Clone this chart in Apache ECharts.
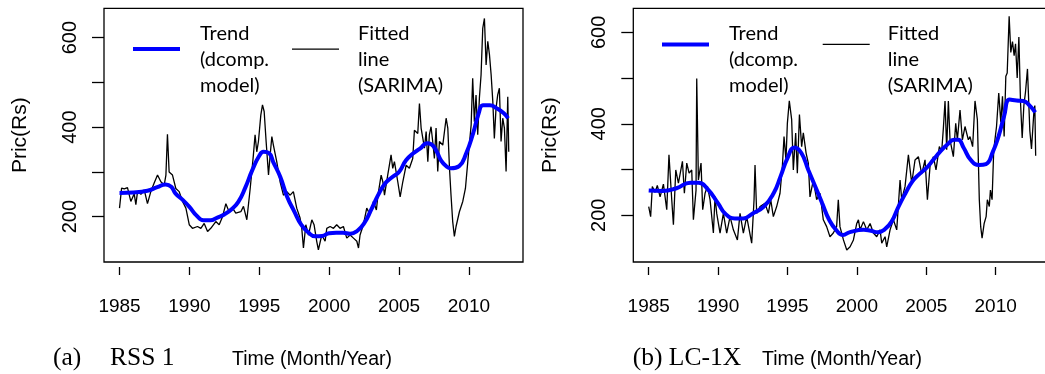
<!DOCTYPE html>
<html><head><meta charset="utf-8">
<script src="https://cdn.jsdelivr.net/npm/echarts@6/dist/echarts.min.js"></script>
<style>html,body{margin:0;padding:0;background:#fff}#c{width:1045px;height:374px}</style>
</head><body><div id="c"></div>
<script>
const xTicks = [1985, 1990, 1995, 2000, 2005, 2010];
const yTicks = [200, 300, 400, 500, 600];
const yLabels = [200, 400, 600];
const trendName = 'Trend\n(dcomp.\nmodel)';
const fitName = 'Fitted\nline\n(SARIMA)';
const captionA = ['(a)', 'RSS 1'];
const captionB = '(b) LC-1X';
const xTitle = 'Time (Month/Year)';
const yTitle = 'Pric(Rs)';

const trendA = [[1985,253],[1986,254],[1987,258],[1987.7,266],[1988.3,272],[1988.7,267],[1989.0,252],[1989.5,238],[1990,222],[1990.5,203],[1991,192],[1991.5,192],[1992,198],[1992.5,205],[1993,216],[1993.5,233],[1994,265],[1994.5,304],[1995,336],[1995.3,345],[1995.7,342],[1996,322],[1996.5,289],[1997,244],[1997.5,212],[1998,182],[1998.5,165],[1999,156],[1999.5,157],[2000,163],[2000.5,164],[2001,164],[2001.5,162],[2002,168],[2002.5,185],[2003,215],[2003.5,248],[2004,274],[2004.5,288],[2005,300],[2005.5,326],[2006,341],[2006.5,352],[2007,364],[2007.3,362],[2007.7,345],[2008,326],[2008.4,312],[2008.7,308],[2009.3,313],[2009.8,341],[2010.3,386],[2010.7,431],[2011,449],[2011.5,449],[2012,442],[2012.5,431],[2012.8,420]];

const fitA = [[1985.0,219],[1985.15,264],[1985.34,262],[1985.57,265],[1985.81,234],[1986.05,251],[1986.17,227],[1986.29,256],[1986.53,250],[1986.77,260],[1987.0,229],[1987.24,256],[1987.48,275],[1987.72,293],[1987.84,297],[1987.96,278],[1988.2,271],[1988.32,293],[1988.43,384],[1988.55,300],[1988.79,293],[1989.03,263],[1989.27,256],[1989.51,234],[1989.75,219],[1989.99,182],[1990.22,174],[1990.58,178],[1990.82,174],[1991.06,185],[1991.3,167],[1991.53,174],[1991.89,189],[1992.13,182],[1992.37,200],[1992.61,229],[1992.84,211],[1993.09,219],[1993.32,208],[1993.68,211],[1993.87,223],[1994.11,193],[1994.35,263],[1994.58,338],[1994.7,383],[1994.82,345],[1994.94,368],[1995.11,427],[1995.23,450],[1995.35,435],[1995.49,368],[1995.66,293],[1995.78,338],[1995.9,379],[1996.01,360],[1996.25,323],[1996.49,278],[1996.73,248],[1996.97,256],[1997.21,248],[1997.44,256],[1997.68,219],[1997.92,197],[1998.04,174],[1998.16,130],[1998.33,182],[1998.52,159],[1998.76,193],[1998.92,182],[1999.11,145],[1999.23,126],[1999.47,159],[1999.71,145],[1999.83,174],[2000.07,178],[2000.31,174],[2000.54,182],[2000.78,174],[2001.02,178],[2001.26,152],[2001.5,159],[2001.74,152],[2001.98,145],[2002.1,130],[2002.21,159],[2002.45,182],[2002.69,219],[2002.93,204],[2003.17,234],[2003.38,215],[2003.5,250],[2003.6,248],[2003.72,293],[2003.84,278],[2003.96,248],[2004.19,293],[2004.31,315],[2004.43,338],[2004.55,308],[2004.67,323],[2004.91,278],[2005.08,244],[2005.27,278],[2005.51,315],[2005.74,308],[2005.98,330],[2006.1,393],[2006.34,386],[2006.46,453],[2006.58,398],[2006.82,353],[2006.94,390],[2007.06,323],[2007.17,383],[2007.29,401],[2007.41,368],[2007.53,330],[2007.65,398],[2007.77,301],[2007.89,368],[2008.13,360],[2008.37,420],[2008.49,398],[2008.61,308],[2008.72,248],[2008.84,189],[2008.96,156],[2009.08,178],[2009.32,211],[2009.56,234],[2009.75,263],[2009.92,323],[2010.16,405],[2010.27,509],[2010.39,412],[2010.51,472],[2010.63,383],[2010.75,465],[2010.87,517],[2010.99,621],[2011.11,643],[2011.23,539],[2011.35,592],[2011.47,562],[2011.59,517],[2011.71,457],[2011.82,375],[2011.94,442],[2012.06,472],[2012.18,487],[2012.3,368],[2012.42,420],[2012.54,398],[2012.66,301],[2012.78,468],[2012.85,345]];

const trendB = [[1985,254],[1986,253],[1987,259],[1988,271],[1988.6,271],[1989.2,259],[1990,226],[1990.5,204],[1991.2,193],[1991.8,193],[1992.5,204],[1993.3,219],[1994,248],[1994.5,285],[1995,325],[1995.5,348],[1996,336],[1996.5,299],[1997,263],[1997.5,226],[1998,190],[1998.5,168],[1999,157],[1999.5,163],[2000.5,168],[2001,166],[2001.5,163],[2002,169],[2002.5,186],[2003,219],[2003.5,248],[2004,274],[2004.5,290],[2005,303],[2005.5,321],[2006,339],[2006.5,354],[2007,365],[2007.3,365],[2007.7,347],[2008.2,321],[2008.8,310],[2009.3,312],[2009.8,339],[2010.2,372],[2010.6,416],[2011,453],[2011.5,451],[2012,450],[2012.5,438],[2012.85,425]];

const fitB = [[1985.0,219],[1985.14,197],[1985.26,263],[1985.46,250],[1985.62,265],[1985.82,240],[1986.06,268],[1986.3,212],[1986.46,332],[1986.66,234],[1986.78,179],[1986.95,299],[1987.14,270],[1987.43,318],[1987.57,248],[1987.74,314],[1987.91,292],[1988.1,299],[1988.22,190],[1988.41,255],[1988.46,499],[1988.58,277],[1988.77,314],[1988.89,212],[1989.06,248],[1989.23,263],[1989.42,234],[1989.66,161],[1989.78,241],[1989.9,204],[1990.14,161],[1990.38,204],[1990.62,161],[1990.86,197],[1991.1,168],[1991.39,146],[1991.58,204],[1991.82,161],[1992.06,197],[1992.42,139],[1992.59,234],[1992.66,310],[1992.78,204],[1993.02,219],[1993.38,226],[1993.62,204],[1993.79,234],[1993.98,197],[1994.22,219],[1994.46,248],[1994.63,307],[1994.75,372],[1994.89,321],[1994.99,401],[1995.13,450],[1995.3,409],[1995.42,299],[1995.59,380],[1995.71,292],[1995.86,420],[1996.02,350],[1996.14,380],[1996.34,336],[1996.5,314],[1996.62,240],[1996.86,277],[1997.1,234],[1997.34,248],[1997.58,190],[1997.82,175],[1998.06,153],[1998.3,161],[1998.54,175],[1998.66,234],[1998.78,175],[1999.03,146],[1999.27,124],[1999.51,131],[1999.75,146],[1999.99,182],[2000.11,190],[2000.23,168],[2000.47,186],[2000.71,168],[2000.95,182],[2001.19,161],[2001.43,153],[2001.67,168],[2001.79,139],[2002.03,153],[2002.15,131],[2002.39,168],[2002.63,190],[2002.87,168],[2003.11,277],[2003.23,234],[2003.47,263],[2003.71,332],[2003.95,270],[2004.19,321],[2004.43,328],[2004.67,290],[2004.91,321],[2005.08,234],[2005.27,307],[2005.51,328],[2005.7,299],[2005.94,350],[2006.11,340],[2006.23,390],[2006.35,450],[2006.47,343],[2006.59,450],[2006.71,365],[2006.95,328],[2007.12,401],[2007.24,365],[2007.43,430],[2007.6,365],[2007.79,394],[2008.03,365],[2008.15,372],[2008.34,350],[2008.51,450],[2008.68,409],[2008.82,234],[2008.92,175],[2009.02,150],[2009.17,182],[2009.31,197],[2009.4,234],[2009.54,219],[2009.62,255],[2009.74,234],[2009.86,343],[2010.06,394],[2010.22,467],[2010.37,403],[2010.49,460],[2010.61,372],[2010.73,504],[2010.83,511],[2010.97,635],[2011.09,556],[2011.21,580],[2011.33,549],[2011.43,575],[2011.55,500],[2011.67,590],[2011.79,446],[2011.91,369],[2012.03,440],[2012.15,470],[2012.29,520],[2012.46,385],[2012.58,345],[2012.75,425],[2012.82,440],[2012.88,330]];

const SANS = '"Liberation Sans", Arial, sans-serif';
const SERIF = '"Liberation Serif", "Times New Roman", serif';
const LEG = 'Lato, "Open Sans", sans-serif';

function gridOf(left, width) {
  return {left: left, top: 8.3, width: width, height: 253.7, show: true, borderColor: '#000',
    borderWidth: 1.3, backgroundColor: 'transparent', containLabel: false, outerBoundsMode: 'none'};
}
function xAxisOf(gi) {
  return {type: 'value', gridIndex: gi, min: 1983.89, max: 2013.87, offset: 5,
    axisLine: {show: false},
    axisTick: {show: true, length: 8, customValues: xTicks, lineStyle: {color: '#000', width: 1.3}},
    axisLabel: {customValues: xTicks, margin: 30, fontSize: 19, color: '#000', fontFamily: SANS,
      formatter: function (v) { return String(v); }},
    splitLine: {show: false}};
}
function yAxisOf(gi, min, max) {
  return {type: 'value', gridIndex: gi, min: min, max: max,
    axisLine: {show: false},
    axisTick: {show: true, length: 12, customValues: yTicks, lineStyle: {color: '#000', width: 1.3}},
    axisLabel: {customValues: yLabels, rotate: 90, margin: 24, fontSize: 20, color: '#000', fontFamily: SANS,
      formatter: function (v) { return String(v); }},
    splitLine: {show: false},
    name: yTitle, nameLocation: 'middle', nameRotate: 90, nameGap: 73,
    nameTextStyle: {fontSize: 21, color: '#000', fontFamily: SANS}};
}
// legend icon: a 47x40 box holding a bar of thickness t centred at height c
function barIcon(c, t) {
  const a = (c - t / 2).toFixed(2), b = (c + t / 2).toFixed(2);
  return 'path://M0,0 L0.01,0 M0,' + a + ' L47,' + a + ' L47,' + b + ' L0,' + b + ' Z M47,40 L46.99,40';
}
function legendOf(name, left, h, color, c, t, padLeft) {
  return {show: true, left: left, top: 20.3, padding: 0, itemWidth: 47, itemHeight: 40,
    selectedMode: false, orient: 'horizontal', symbolKeepAspect: false,
    data: [{name: name, icon: barIcon(c, t), itemStyle: {color: color, borderWidth: 0}}],
    itemStyle: {color: color, borderWidth: 0},
    textStyle: {fontFamily: LEG, fontSize: 20, lineHeight: 26, color: '#000', padding: [0, 0, 0, padLeft]}};
}
function fitSeries(gi, data) {
  return {type: 'line', name: fitName, xAxisIndex: gi, yAxisIndex: gi, data: data,
    showSymbol: false, symbol: 'none', z: 2,
    lineStyle: {color: '#000', width: 1.3}, itemStyle: {color: '#000'}};
}
function trendSeries(gi, data) {
  return {type: 'line', name: trendName, xAxisIndex: gi, yAxisIndex: gi, data: data,
    showSymbol: false, symbol: 'none', smooth: true, z: 3,
    lineStyle: {color: '#0000ff', width: 4}, itemStyle: {color: '#0000ff'}};
}
function txt(s, left, top, font) {
  return {type: 'text', left: left, top: top, silent: true,
    style: {text: s, font: font, fill: '#000'}};
}

const chart = echarts.init(document.getElementById('c'), null, {renderer: 'canvas'});
chart.setOption({
  animation: false,
  backgroundColor: '#fff',
  grid: [gridOf(104, 419), gridOf(633.3, 416.1)],
  xAxis: [xAxisOf(0), xAxisOf(1)],
  yAxis: [yAxisOf(0, 98.7, 665.6), yAxisOf(1, 97.7, 652.6)],
  legend: [
    legendOf(trendName, 133, 40, '#0000ff', 9.8, 4, 15),
    legendOf(fitName, 292, 40, '#000', 9.8, 1.4, 14),
    legendOf(trendName, 662, 40, '#0000ff', 5.1, 4, 15),
    legendOf(fitName, 822.7, 40, '#000', 5.1, 1.4, 13)
  ],
  series: [fitSeries(0, fitA), trendSeries(0, trendA), fitSeries(1, fitB), trendSeries(1, trendB)],
  graphic: [
    txt(captionA[0], 53, 345, '25.5px ' + SERIF),
    txt(captionA[1], 110, 345, '25.5px ' + SERIF),
    txt(xTitle, 232, 350, '19.5px ' + SANS),
    txt(captionB, 632.7, 345, '25.5px ' + SERIF),
    txt(xTitle, 762, 350, '19.5px ' + SANS)
  ]
});
</script>
</body></html>
